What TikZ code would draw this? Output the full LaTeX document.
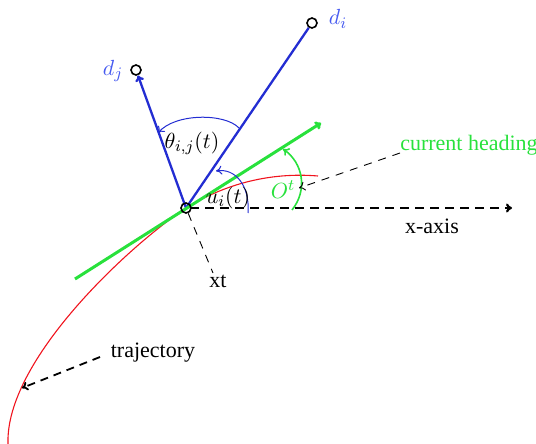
\documentclass[tikz,border=0pt]{standalone}
\usepackage{fontspec}
\setmainfont{Liberation Serif}
\usetikzlibrary{arrows.meta}
\definecolor{lineblue}{RGB}{35,45,210}
\definecolor{textblue}{RGB}{70,90,240}
\definecolor{hgreen}{RGB}{40,225,60}
\definecolor{tred}{RGB}{240,20,30}
\tikzset{
  lbl/.style={inner sep=1pt,font=\fontsize{11}{13}\selectfont},
  dot/.style={circle,draw=black,line width=0.8pt,inner sep=0pt,minimum size=5pt},
  tip/.style={-{To[length=3pt,width=4.5pt]}},
  thindash/.style={dash pattern=on 4pt off 3.5pt,line width=0.45pt},
}
\begin{document}
\begin{tikzpicture}[x=0.5pt,y=-0.5pt]
\useasboundingbox (0,0) rectangle (536,444);
% anchors
\coordinate (Oc) at (186,208);
% red trajectory
\draw[tred,line width=0.55pt] (8,444) .. controls (5,360) and (130,245) .. (Oc)
  .. controls (225,184) and (270,172) .. (318,176);
% blue lines
\node[dot] (di) at (312,23) {};
\node[dot] (dj) at (136,70) {};
\draw[lineblue,line width=1.15pt] (Oc) -- (di);
\draw[lineblue,line width=1.15pt,tip] (Oc) -- (dj);
% green heading line
\coordinate (g1) at (75,279);
\coordinate (g2) at (321,123);
\draw[hgreen,line width=1.5pt,tip] (g1) -- (g2);
% x-axis
\coordinate (xend) at (512,208);
\draw[black,line width=1.1pt,dash pattern=on 4.5pt off 3pt,tip] (190,208) -- (xend);
% arcs
\draw[lineblue,line width=0.5pt,tip] (239,128) .. controls (225,113) and (175,113) .. (158,133);
\draw[lineblue,line width=0.5pt,tip] (248,213) .. controls (250,185) and (235,168) .. (216,171);
\draw[hgreen,line width=0.8pt,tip] (292,210) .. controls (308,190) and (303,163) .. (283,149);
% origin dot
\node[dot,fill=none] (O) at (Oc) {};
% labels
\node[lbl,text=textblue] (dil) at (338,19) {$d_i$};
\node[lbl,text=textblue] (djl) at (113,71) {$d_j$};
\node[lbl] (th) at (192,143) {$\theta_{i,j}(t)$};
\node[lbl] (ul) at (228,198) {$u_i(t)$};
\node[lbl,text=hgreen] (ot) at (283,190) {$O^t$};
\node[lbl,text=hgreen] (ch) at (469,145) {current heading};
\node[lbl] (xa) at (432,226) {x-axis};
\node[lbl] (xt) at (218,281) {xt};
\node[lbl] (tr) at (153,353) {trajectory};
% pointer lines
\coordinate (chs) at (400,153);
\coordinate (che) at (299,188);
\draw[black,thindash,tip] (chs) -- (che);
\coordinate (xte) at (213,273);
\draw[black,thindash] (O) -- (xte);
\coordinate (trs) at (100,357);
\coordinate (tre) at (22,388);
\draw[black,line width=0.9pt,dash pattern=on 4pt off 3pt,tip] (trs) -- (tre);
\end{tikzpicture}
\end{document}
